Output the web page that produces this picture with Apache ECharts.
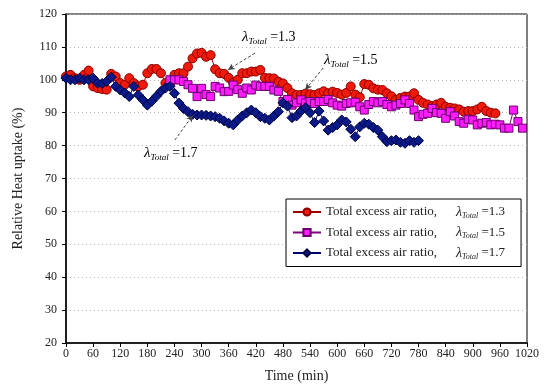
<!DOCTYPE html>
<html>
<head>
<meta charset="utf-8">
<script src="https://cdn.jsdelivr.net/npm/echarts@6/dist/echarts.min.js"></script>
<style>
  html, body { margin: 0; padding: 0; background: #fff; }
  #chart { width: 544px; height: 391px; }
</style>
</head>
<body>
<div id="chart"></div>
<script>
// sampling: one reading every 10 min, each series starting at its own time
const STEP = 10;

const redStart = 0;
const redValues = [
  101, 101.5, 100.5, 100, 101.5, 102.8, 98, 97.5, 97.2, 97,
  101.8, 101, 99, 98.5, 100.5, 99, 98, 98.5, 102, 103.3,
  103.3, 102, 99, 98.5, 101.5, 102, 102, 104, 106.5, 108,
  108.2, 107, 107.5, 103.2, 102, 101.8, 100.6, 99.1, 100, 102,
  102, 102.5, 102.5, 103, 100.6, 100.5, 100.4, 99.4, 98.9, 97.5,
  95.9, 95.4, 95.4, 95.8, 95.6, 95.4, 95.9, 96.5, 95.9, 96.4,
  96, 95.5, 96, 98, 95.5, 94.7, 98.7, 98.5, 97.4, 97,
  96.9, 95.9, 95, 93.9, 94.5, 94.9, 94.9, 95.9, 93.9, 93,
  92.5, 92, 92.5, 93, 91.8, 91.5, 91.3, 91, 90.3, 90.5,
  90.5, 91, 91.8, 90.5, 90, 89.8
];

const magentaStart = 230;
const magentaValues = [
  100, 100, 100, 99.5, 98.5, 97.4, 94.9, 97.4, 95.5, 94.9,
  98, 97.5, 96.4, 96.5, 98.4, 97, 95.9, 97.5, 96.9, 98.4,
  98, 98, 98, 96.9, 96.5, 93.4, 94, 92.3, 93, 93.9,
  93, 93.4, 92.8, 93.4, 93.4, 94, 93, 92.3, 92, 92.8,
  93, 93.2, 91.8, 90.8, 92.5, 93.4, 93, 93.4, 92.5, 91.8,
  92.3, 92.8, 93.9, 92.8, 90.8, 88.8, 89.5, 89.8, 91.3, 90,
  89.8, 88.3, 90.3, 89, 87.3, 86.8, 88, 87.8, 86.3, 86.8,
  87, 86.3, 86.5, 86.3, 85.3, 85.3, 90.8, 87.3, 85.3
];

const blueStart = 0;
const blueValues = [
  100.5, 100, 100, 100.5, 100, 100, 100.5, 99, 98.9, 99.5,
  100.8, 98, 96.9, 96, 94.9, 98, 95.4, 93.9, 92.3, 93.5,
  95, 96.5, 97.5, 98, 95.9, 92.9, 91.3, 90.3, 89.5, 89.3,
  89.3, 89.2, 89, 88.8, 88.3, 87.5, 86.8, 86.3, 87.8, 89,
  90, 90.8, 90, 88.8, 88.3, 87.8, 89, 90.3, 93, 92,
  88.5, 89, 90.5, 91.5, 90, 87, 90.5, 87.5, 84.7, 85.5,
  86.3, 87.8, 87.2, 85, 82.7, 85.7, 86.8, 86.5, 85.5, 84.7,
  82.7, 81.2, 81.5, 81.7, 81, 80.7, 81.5, 81, 81.5
];

const seriesNames = ["1.3", "1.5", "1.7"];
const xTicks = { min: 0, max: 1020, interval: 60 };
const yTicks = { min: 20, max: 120, interval: 10 };

// annotation arrows, [from, to] in data units
const arrows = [
  [[418, 108.1], [358, 103]],
  [[569, 103.6], [529, 96.9]],
  [[241, 81.7], [281, 89.3]],
];

const SERIF = "'Liberation Serif', 'DejaVu Serif', serif";

function toPairs(start, values) {
  return values.map((v, i) => [start + i * STEP, v]);
}

function lambdaText(value) {
  return `{l|λ}{s|Total}{e| =${value}}`;
}

const lambdaRich = (size) => ({
  l: { fontFamily: SERIF, fontStyle: "italic", fontSize: size + 1, color: "#222" },
  s: { fontFamily: SERIF, fontStyle: "italic", fontSize: Math.round(size * 0.62), color: "#222", padding: [Math.round(size * 0.55), 0, 0, 0] },
  e: { fontFamily: SERIF, fontSize: size, color: "#222" },
});

const chart = echarts.init(document.getElementById("chart"));

const baseLine = {
  type: "line",
  symbolKeepAspect: true,
  animation: false,
  showAllSymbol: true,
  emphasis: { disabled: true },
};

chart.setOption({
  backgroundColor: "#fff",
  animation: false,
  grid: {
    left: 66,
    right: 17,
    top: 14,
    bottom: 48,
    show: true,
    borderColor: "#000",
    borderWidth: 1,
  },
  legend: {
    orient: "vertical",
    left: 286,
    top: 199,
    padding: [6, 16, 6, 6],
    itemGap: 6,
    itemWidth: 28,
    itemHeight: 9,
    borderColor: "#000",
    borderWidth: 1,
    backgroundColor: "#fff",
    data: seriesNames,
    formatter: (name) => `{t|Total excess air ratio,}` + lambdaText(name),
    textStyle: {
      fontFamily: SERIF,
      fontSize: 13,
      color: "#222",
      rich: Object.assign({ t: { fontFamily: SERIF, fontSize: 13, color: "#222", width: 130 } }, lambdaRich(13)),
    },
  },
  xAxis: {
    type: "value",
    min: xTicks.min,
    max: xTicks.max,
    interval: xTicks.interval,
    name: "Time (min)",
    nameLocation: "middle",
    nameGap: 26,
    nameTextStyle: { fontFamily: SERIF, fontSize: 14, color: "#222" },
    axisLine: { lineStyle: { color: "#000", width: 1.5 } },
    axisTick: { inside: false, length: 4, lineStyle: { color: "#000" } },
    axisLabel: { fontFamily: SERIF, fontSize: 12, color: "#222", margin: 5, formatter: (v) => String(v) },
    splitLine: { show: false },
  },
  yAxis: {
    type: "value",
    min: yTicks.min,
    max: yTicks.max,
    interval: yTicks.interval,
    name: "Relative Heat uptake (%)",
    nameLocation: "middle",
    nameGap: 41,
    nameTextStyle: { fontFamily: SERIF, fontSize: 14, color: "#222" },
    axisLine: { lineStyle: { color: "#000", width: 1.5 } },
    axisTick: { inside: false, length: 4, lineStyle: { color: "#000" } },
    axisLabel: { fontFamily: SERIF, fontSize: 12, color: "#222", margin: 9 },
    splitLine: { show: true, lineStyle: { color: "#b5b5b5", type: [1, 3], width: 1 } },
  },
  series: [
    {
      ...baseLine,
      name: seriesNames[0],
      data: toPairs(redStart, redValues),
      symbol: "circle",
      symbolSize: 9,
      lineStyle: { color: "#a00000", width: 1 },
      itemStyle: { color: "#f01a0a", borderColor: "#8a0000", borderWidth: 1 },
      markLine: {
        silent: true,
        animation: false,
        symbol: ["none", "arrow"],
        symbolSize: [5, 7],
        label: { show: false },
        lineStyle: { color: "#444", type: [3, 2], width: 1 },
        data: arrows.map(([from, to]) => [{ coord: from }, { coord: to }]),
      },
    },
    {
      ...baseLine,
      name: seriesNames[1],
      data: toPairs(magentaStart, magentaValues),
      symbol: "rect",
      symbolSize: 8,
      lineStyle: { color: "#800080", width: 1 },
      itemStyle: { color: "#ff1cff", borderColor: "#6a006a", borderWidth: 1 },
    },
    {
      ...baseLine,
      name: seriesNames[2],
      data: toPairs(blueStart, blueValues),
      symbol: "diamond",
      symbolSize: 10,
      lineStyle: { color: "#000070", width: 1 },
      itemStyle: { color: "#0a1a88", borderColor: "#000040", borderWidth: 1 },
    },
  ],
  graphic: [
    { type: "text", left: 242, top: 30, style: { text: lambdaText("1.3"), rich: lambdaRich(14) } },
    { type: "text", left: 324, top: 53, style: { text: lambdaText("1.5"), rich: lambdaRich(14) } },
    { type: "text", left: 144, top: 146, style: { text: lambdaText("1.7"), rich: lambdaRich(14) } },
  ],
});
</script>
</body>
</html>
